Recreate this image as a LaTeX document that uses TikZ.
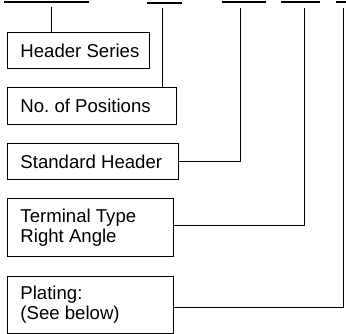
\documentclass[tikz,border=0pt]{standalone}
\usepackage{fontspec}
\setmainfont{Liberation Sans}
\usepackage{tikz}

\tikzset{
  bar/.style={fill=black, inner sep=0pt, minimum height=2.6pt},
  partbox/.style={draw, line width=0.9pt, rectangle, anchor=north west,
    inner xsep=13pt, inner ysep=0pt, align=flush left,
    font=\fontsize{18.6}{20}\selectfont},
  wire/.style={line width=0.9pt}
}

\begin{document}
\begin{tikzpicture}[x=1pt, y=-1pt]
\useasboundingbox (0,0) rectangle (346,334);

% blanks of the part number
\foreach \a/\b/\h [count=\i] in {4/89/2,147/182/3.2,222/266/2,281/320/2,336/346/2}
  \node [bar, minimum width=\b-\a] (bar-\i) at ({(\a+\b)/2},\h) {};

\foreach \x/\h [count=\i] in {51/7,162/8,240/8,304/8,343/8}
  \coordinate (top-\i) at (\x,\h);

% fields
\node [partbox, text width=116pt, minimum height=36pt] (series) at (7,32) {\mbox{Header Series}};
\node [partbox, text width=143pt, minimum height=37pt] (positions) at (7,87) {No.\ of Positions};
\node [partbox, text width=145pt, minimum height=36pt] (standard) at (7,143) {Standard Header};
\node [partbox, text width=140pt, minimum height=58pt] (terminal) at (7,198) {Terminal Type\\Right Angle};
\node [partbox, text width=140pt, minimum height=57pt] (plating) at (7,276) {Plating:\\(See below)};

\draw [wire] (top-1) -- (top-1 |- series.north);
\draw [wire] (top-2) -- (top-2 |- positions.north);
\draw [wire] (top-3) |- (standard.east);
\draw [wire] (top-4) |- ([yshift=2pt]terminal.east);
\draw [wire] (top-5) |- ([yshift=-2.5pt]plating.east);
\end{tikzpicture}
\end{document}
